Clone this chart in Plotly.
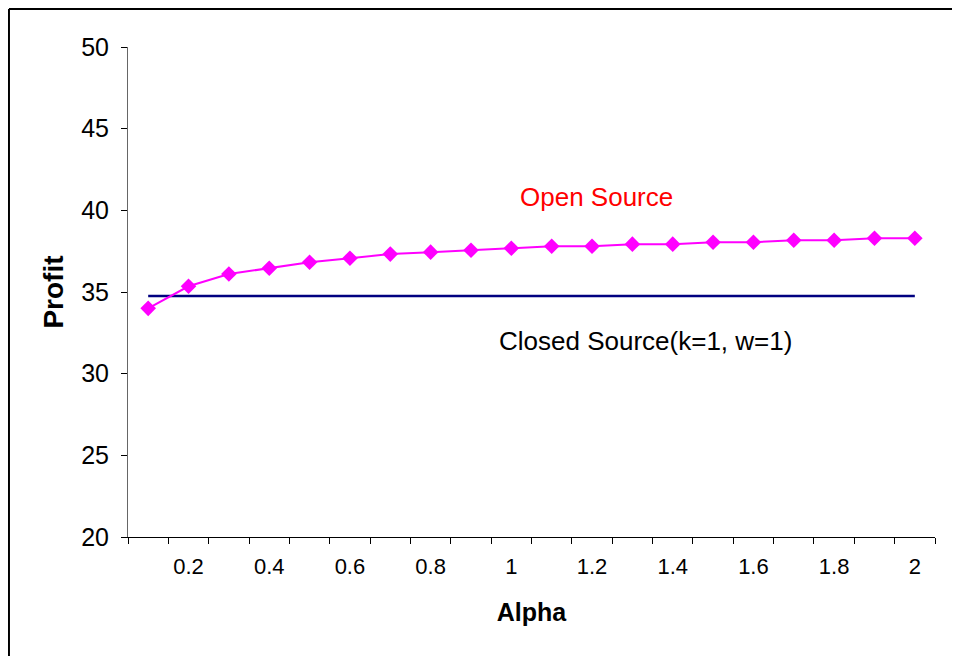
import plotly.graph_objects as go

alpha = [0.1, 0.2, 0.3, 0.4, 0.5, 0.6, 0.7, 0.8, 0.9, 1.0,
         1.1, 1.2, 1.3, 1.4, 1.5, 1.6, 1.7, 1.8, 1.9, 2.0]
open_source = [34.0, 35.35, 36.1, 36.45, 36.82, 37.07, 37.32, 37.44, 37.56, 37.68,
               37.8, 37.8, 37.93, 37.93, 38.05, 38.05, 38.17, 38.17, 38.29, 38.29]
closed_source = [34.75] * len(alpha)

x_tickvals = [0.2, 0.4, 0.6, 0.8, 1.0, 1.2, 1.4, 1.6, 1.8, 2.0]
x_ticktext = ["0.2", "0.4", "0.6", "0.8", "1", "1.2", "1.4", "1.6", "1.8", "2"]
x_boundaries = [0.05 + 0.1 * i for i in range(21)]
y_tickvals = [20, 25, 30, 35, 40, 45, 50]

FONT = "Liberation Sans, Arial, sans-serif"

fig = go.Figure()
fig.add_trace(go.Scatter(
    x=alpha, y=closed_source, mode="lines",
    line=dict(color="#000080", width=2.5), name="Closed Source",
    showlegend=False, hoverinfo="skip"))
fig.add_trace(go.Scatter(
    x=alpha, y=open_source, mode="lines+markers",
    line=dict(color="#FF00FF", width=2),
    marker=dict(symbol="diamond", size=12, color="#FF00FF"),
    name="Open Source", showlegend=False))

fig.update_layout(
    width=960, height=656,
    margin=dict(l=120, r=33, t=39, b=127),
    paper_bgcolor="white", plot_bgcolor="white",
    font=dict(family=FONT, size=18, color="black"),
    xaxis=dict(
        range=[0.05, 2.05], tickmode="array", tickvals=x_tickvals, ticktext=x_ticktext,
        ticks="outside", ticklen=6, tickcolor="rgba(0,0,0,0)",
        showline=True, linecolor="black", linewidth=1,
        showgrid=False, zeroline=False,
        tickfont=dict(size=22, family=FONT),
        ticklabelstandoff=4,
        minor=dict(tickmode="array", tickvals=x_boundaries, ticks="outside",
                   ticklen=6, tickcolor="black", showgrid=False),
        title=dict(text="<b>Alpha</b>", font=dict(size=25, family=FONT), standoff=25),
    ),
    yaxis=dict(
        range=[20, 50], tickmode="array", tickvals=y_tickvals,
        ticks="outside", ticklen=6, tickcolor="black",
        showline=True, linecolor="#666666", linewidth=1,
        showgrid=False, zeroline=False,
        tickfont=dict(size=25, family=FONT),
        ticklabelstandoff=7,
        title=dict(text="<b>Profit</b>", font=dict(size=28, family=FONT), standoff=9),
    ),
    annotations=[
        dict(x=1.21, y=40.82, xref="x", yref="y", text="Open Source", showarrow=False,
             font=dict(color="#FF0000", size=26, family=FONT)),
        dict(x=1.332, y=32.0, xref="x", yref="y", text="Closed Source(k=1, w=1)", showarrow=False,
             font=dict(color="black", size=26, family=FONT)),
    ],
    shapes=[
        dict(type="line", xref="paper", yref="paper", x0=-0.1475, x1=1.05, y0=1.0776, y1=1.0776,
             line=dict(color="black", width=2)),
        dict(type="line", xref="paper", yref="paper", x0=-0.1475, x1=-0.1475, y0=1.0776, y1=-0.26,
             line=dict(color="black", width=2)),
    ],
)

fig.write_html("out.html")
